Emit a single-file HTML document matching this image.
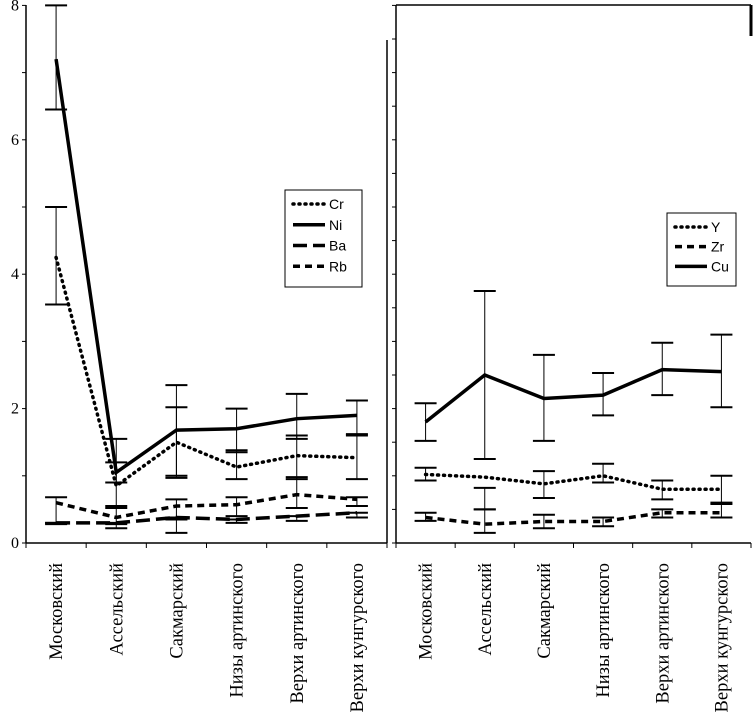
<!DOCTYPE html>
<html><head><meta charset="utf-8"><style>
html,body{margin:0;padding:0;background:#fff}
svg{display:block}
text{font-family:"Liberation Serif",serif;fill:#000}
.lg{font-family:"Liberation Sans",sans-serif;font-size:14px}
</style></head><body>
<svg id="c" width="753" height="713" viewBox="0 0 753 713"></svg>
<script>
const categories=["Московский","Ассельский","Сакмарский","Низы артинского","Верхи артинского","Верхи кунгурского"];
const yTicks=[0,2,4,6,8];
const cr=[4.25,0.85,1.5,1.13,1.3,1.27];
const ni=[7.2,1.05,1.68,1.7,1.85,1.9];
const ba=[0.3,0.3,0.38,0.35,0.4,0.45];
const rb=[0.6,0.38,0.55,0.57,0.72,0.65];
const niHi=[8.0,1.55,2.35,2.0,2.22,2.12];
const niLo=[6.45,0.9,1.0,1.35,1.55,1.62];
const crHi=[5.0,1.2,2.02,1.38,1.6,1.6];
const crLo=[3.55,0.55,0.97,0.95,0.95,0.95];
const rbHi=[0.68,0.52,0.65,0.68,0.98,0.68];
const rbLo=[0.3,0.28,0.35,0.4,0.52,0.55];
const baLo=[0.28,0.22,0.15,0.3,0.33,0.38];
const yv=[1.02,0.98,0.88,1.0,0.8,0.8];
const zr=[0.38,0.28,0.32,0.32,0.45,0.45];
const cu=[1.8,2.5,2.15,2.2,2.58,2.55];
const cuHi=[2.08,3.75,2.8,2.53,2.98,3.1];
const cuLo=[1.52,1.25,1.52,1.9,2.2,2.02];
const yHi=[1.12,0.82,1.07,1.18,0.93,1.0];
const yLo=[0.93,0.5,0.67,0.9,0.65,0.6];
const zrHi=[0.45,0.5,0.42,0.38,0.5,0.58];
const zrLo=[0.33,0.15,0.22,0.25,0.38,0.38];

const svg=document.getElementById('c');
const NS='http://www.w3.org/2000/svg';
function el(t,a,p){const e=document.createElementNS(NS,t);for(const k in a)e.setAttribute(k,a[k]);(p||svg).appendChild(e);return e;}
const y0=543,yk=67.2;
function Y(v){return y0-v*yk;}
function mkX(x0,x1){const w=(x1-x0)/6;return i=>x0+w*(i+0.5);}
const XL=mkX(26,387),XR=mkX(396,751);

function line(arr,X,dash,w,name){
  let d=arr.map((v,i)=>(i?'L':'M')+X(i)+' '+Y(v)).join(' ');
  const p=el('path',{d:d,fill:'none',stroke:'#000','stroke-width':w,'stroke-dasharray':dash,'stroke-linecap':dash==='1 5'?'round':'butt'});
  
  
}
function errs(hi,lo,X,name){
  hi.forEach((v,i)=>{
    const g=el('g',{});
    
    
    const x=X(i);
    el('line',{x1:x,x2:x,y1:Y(v),y2:Y(lo[i]),stroke:'#000','stroke-width':1},g);
    el('line',{x1:x-11,x2:x+11,y1:Y(v),y2:Y(v),stroke:'#000','stroke-width':2},g);
    el('line',{x1:x-11,x2:x+11,y1:Y(lo[i]),y2:Y(lo[i]),stroke:'#000','stroke-width':2},g);
  });
}
function axes(x0,x1,X,major,labels,name){
  const g=el('g',{});
  
  
  el('line',{x1:x0,x2:x0,y1:5,y2:y0,stroke:'#000','stroke-width':1.5},g);
  el('line',{x1:x0,x2:x1,y1:y0,y2:y0,stroke:'#000','stroke-width':1.5},g);
  for(let v=0;v<=8.001;v+=major){el('line',{x1:x0-4,x2:x0,y1:Y(v),y2:Y(v),stroke:'#000','stroke-width':1},g);}
  for(let i=0;i<=6;i++){const x=x0+(x1-x0)/6*i;el('line',{x1:x,x2:x,y1:y0,y2:y0+5,stroke:'#000','stroke-width':1},g);}
  categories.forEach((c,i)=>{
    const t=el('text',{x:0,y:0,'font-size':18.5,'text-anchor':'end',transform:`translate(${X(i)+6},563) rotate(-90)`},g);
    t.textContent=c;
    
    
  });
  if(labels){yTicks.forEach(v=>{const t=el('text',{x:19,y:Y(v)+5,'font-size':16,'text-anchor':'end'},g);t.textContent=v;
    
    });}
}
// left panel
axes(26,387,XL,1,true,'left-axes');
el('line',{x1:387,x2:387,y1:40,y2:543,stroke:'#000','stroke-width':1.5});
errs(niHi,niLo,XL,'ni-error');errs(crHi,crLo,XL,'cr-error');errs(rbHi,rbLo,XL,'rb-error');
errs(ba,baLo,XL,'ba-error');
line(cr,XL,'1 5',3.5,'cr-line');
line(ni,XL,'',3.5,'ni-line');
line(ba,XL,'14 6',3.5,'ba-line');
line(rb,XL,'7 5',3.5,'rb-line');
// right panel
axes(396,751,XR,0.5,false,'right-axes');
el('line',{x1:396,x2:751,y1:5,y2:5,stroke:'#000','stroke-width':1.5});
el('line',{x1:751,x2:751,y1:5,y2:36,stroke:'#000','stroke-width':3});
errs(cuHi,cuLo,XR,'cu-error');errs(yHi,yLo,XR,'y-error');errs(zrHi,zrLo,XR,'zr-error');
line(yv,XR,'1 5',3.5,'y-line');
line(zr,XR,'7 5',3.5,'zr-line');
line(cu,XR,'',3.5,'cu-line');
// legends
function legend(x,y,w,h,items,name){
  const g=el('g',{});
  
  
  el('rect',{x:x,y:y,width:w,height:h,fill:'#fff',stroke:'#000','stroke-width':1},g);
  items.forEach((it,i)=>{
    const yy=y+14+i*(h-14)/items.length;
    el('line',{x1:x+8,x2:x+40,y1:yy,y2:yy,stroke:'#000','stroke-width':3.5,'stroke-dasharray':it[1],'stroke-linecap':it[1]==='1 5'?'round':'butt'},g);
    const t=el('text',{x:x+44,y:yy+5,class:'lg'},g);t.textContent=it[0];
    
    
  });
}
legend(285,190,77,97,[['Cr','1 5'],['Ni',''],['Ba','14 6'],['Rb','7 5']],'legend-left');
legend(667,213,69,73,[['Y','1 5'],['Zr','7 5'],['Cu','']],'legend-right');
</script>
</body></html>
